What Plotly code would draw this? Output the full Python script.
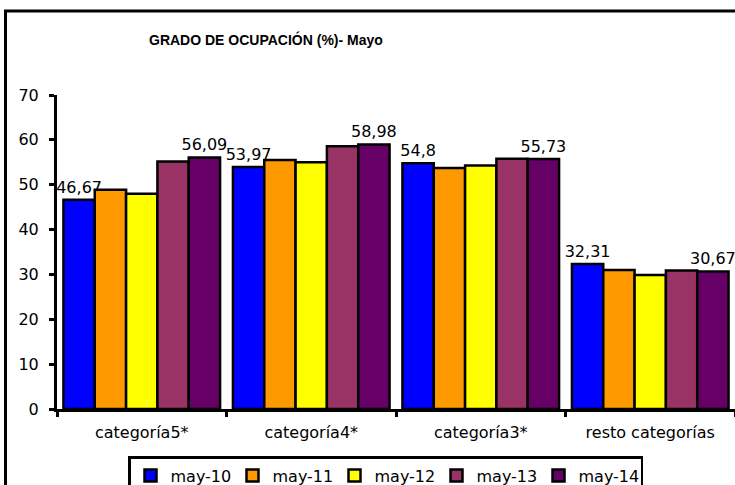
import plotly.graph_objects as go

categories = ["categoría5*", "categoría4*", "categoría3*", "resto categorías"]
series_names = ["may-10", "may-11", "may-12", "may-13", "may-14"]
may10 = [46.67, 53.97, 54.8, 32.31]
may11 = [48.9, 55.5, 53.7, 31.0]
may12 = [48.0, 55.0, 54.3, 29.9]
may13 = [55.2, 58.6, 55.8, 30.9]
may14 = [56.09, 58.98, 55.73, 30.67]
series_values = [may10, may11, may12, may13, may14]
labelled = [True, False, False, False, True]
colors = ["#0000FF", "#FF9900", "#FFFF00", "#993366", "#660066"]
y_ticks = [0, 10, 20, 30, 40, 50, 60, 70]

FONT = "DejaVu Sans"

W, H = 735, 485
L, R, T, B = 57, 0, 95, 76
pw = W - L - R
ph = H - T - B

def px_to_paper_x(px):
    return (px - L) / pw

def px_to_paper_y(py):
    return (H - B - py) / ph

fig = go.Figure()
for name, vals, col, lab in zip(series_names, series_values, colors, labelled):
    fig.add_trace(go.Bar(
        name=name, x=categories, y=vals,
        marker=dict(color=col, line=dict(color="black", width=2.5)),
        text=[f"{v:g}".replace(".", ",") for v in vals] if lab else None,
        textposition="outside" if lab else "none",
        constraintext="none",
        textfont=dict(family=FONT, size=16, color="black"),
        cliponaxis=False,
    ))

fig.update_layout(
    width=W, height=H,
    margin=dict(l=L, r=R, t=T, b=B, pad=0),
    paper_bgcolor="white", plot_bgcolor="white",
    barmode="group", bargap=0.076, bargroupgap=0,
    font=dict(family=FONT, size=16, color="black"),
    showlegend=True,
    legend=dict(
        orientation="h",
        xref="container", yref="container",
        x=128 / W, xanchor="left",
        y=(H - 456) / H, yanchor="top",
        bordercolor="black", borderwidth=2.5,
        bgcolor="white",
        font=dict(family=FONT, size=16, color="black"),
        itemwidth=30,
        entrywidth=57,
    ),
    xaxis=dict(
        range=[-0.5, 3.5], showline=True, linecolor="black", linewidth=3,
        ticks="outside", tickson="boundaries", ticklen=5, tickwidth=3, tickcolor="black",
        showgrid=False, zeroline=False, ticklabelstandoff=7, automargin=False,
        tickfont=dict(family=FONT, size=16, color="black"),
    ),
    yaxis=dict(
        range=[0, 70], tickvals=y_ticks, showline=True, linecolor="black", linewidth=3,
        ticks="outside", ticklen=5, tickwidth=3, tickcolor="black",
        showgrid=False, zeroline=False, ticklabelstandoff=7, automargin=False,
        tickfont=dict(family=FONT, size=16, color="black"),
    ),
    annotations=[dict(
        text="<b>GRADO DE OCUPACIÓN (%)- Mayo</b>",
        xref="paper", yref="paper",
        x=px_to_paper_x(266), y=px_to_paper_y(40),
        xanchor="center", yanchor="middle", showarrow=False,
        font=dict(family="Liberation Sans, Arial", size=14, color="black"),
    )],
    shapes=[dict(
        type="rect", xref="paper", yref="paper",
        x0=px_to_paper_x(5.5), x1=px_to_paper_x(760),
        y0=px_to_paper_y(520), y1=px_to_paper_y(11),
        line=dict(color="black", width=3), fillcolor="rgba(0,0,0,0)",
        layer="below",
    )],
)

fig.write_html(
    "out.html",
    config={"displayModeBar": False},
    post_script="document.body.style.margin='0';document.documentElement.style.overflow='hidden';",
)
